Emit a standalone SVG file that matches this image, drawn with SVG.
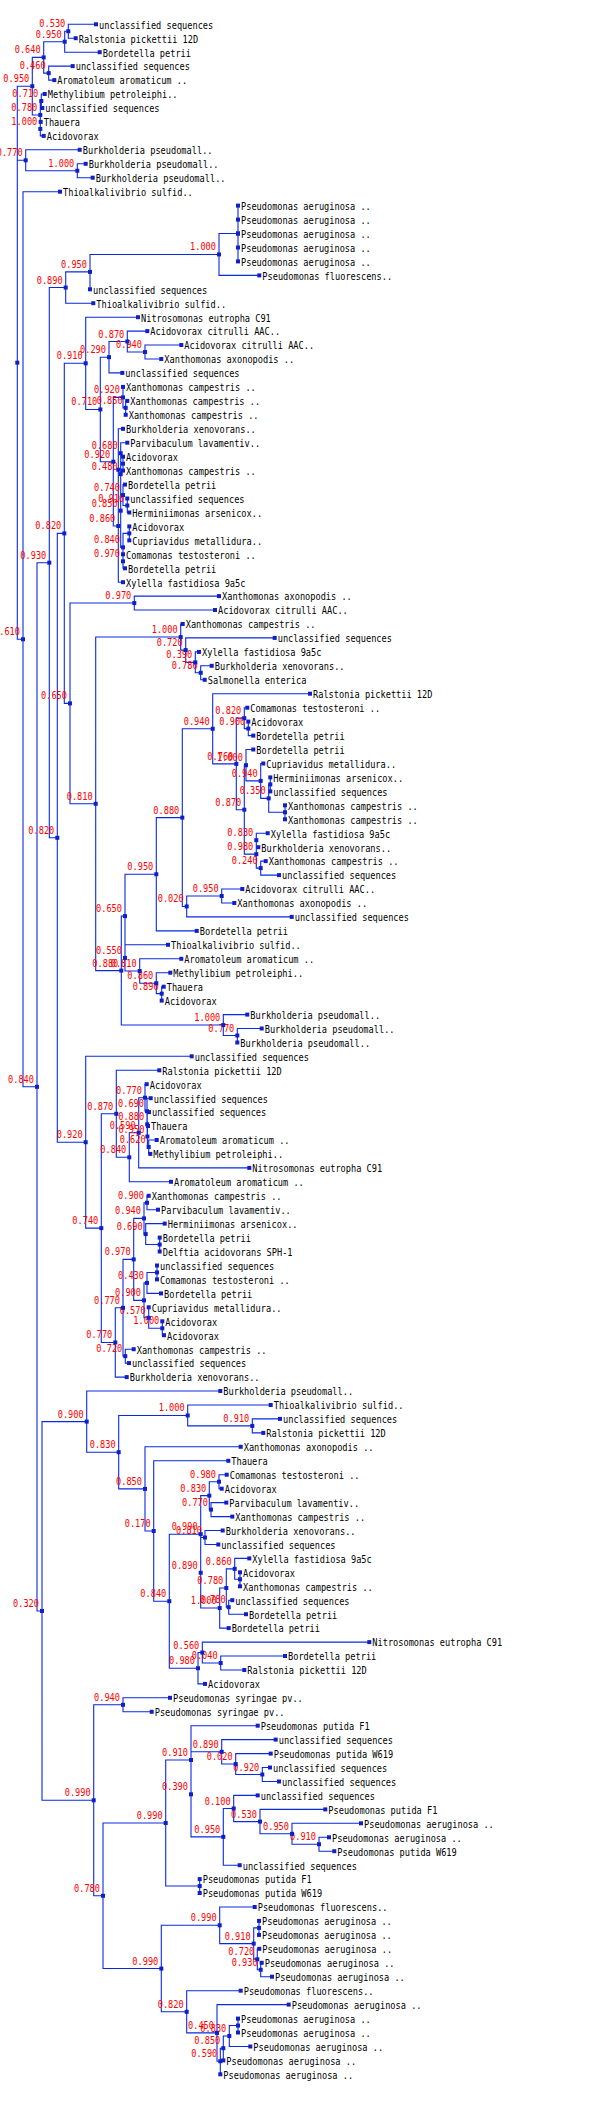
<svg xmlns="http://www.w3.org/2000/svg" xmlns:xlink="http://www.w3.org/1999/xlink" width="600" height="2112" viewBox="0 0 600 2112">
<style>
text{font-family:"DejaVu Sans Mono","Liberation Mono",monospace;font-size:10px;fill:#000}
text.b{fill:#f00;text-anchor:end}
#conn path{fill:none;stroke:#0a2ae0;stroke-width:1.1}
</style>
<defs><rect id="s" x="-2" y="-2" width="4" height="4" fill="#1020c8"/></defs>
<rect width="600" height="2112" fill="#fff"/>
<g id="conn">
<path d="M96 24.3H68.3V38.2H75.7M68.3 31.25H64.7V52.2H99.7M72.7 66.1H48.7V80.1H54.3M64.7 41.7H43.7V73.1H48.7M44.7 94H41.3V108H42.3M40.7 121.9H40.3V135.9H43.7M41.3 101H40.3V128.9M43.7 57.4H32.3V114.95H40.3M85.7 163.8H77.3V177.7H92.7M79.7 149.8H25.7V170.75H77.3M32.3 86.2H17.3V639.25H23M17.3 160.3H25.7M60 191.7H23V1086.8H37"/>
<path d="M238 205.6V261.4M238 233.5H219V275.4H259.3M219 254.45H90V289.3M90 271.9H65.7V303.2H93.3M181.3 345H145V359H161.3M147.3 331.1H127.3V352H145M127.3 341.5H109V372.9H122.3M127.3 400.9H125.7V414.8M123 386.9V407.85H125.7M123 456.7V470.6M127.3 442.7H120.7V463.65H123M127.3 498.5V512.5H129.3M125 484.6H123V505.5H127.3M120.7 453.2V495.05H123M129.3 526.4V540.4M123 554.3V568.3H125M129.3 533.4H123V561.3M120.7 474.1V547.35H123M123 428.8H118.3V510.7H120.7M118.3 469.75V582.2H123M123 397.4H113.3V526H118.3M109 357.2H100.3V461.7H113.3M138 317.2H85.7V409.45H100.3"/>
<path d="M219 596.1H134.3V610H215M211.7 665.8H200.7V679.8H204.7M199 651.9H195.3V672.8H200.7M274.7 637.9H185.7V662.35H195.3M182.7 624H180.7V650.1H185.7M248.3 721.6V735.6H253.3M247.3 707.7H244.3V728.6H248.3M270.3 777.4V791.4M285 805.3V819.3M270.3 784.4H268.7V812.3H285M263.3 763.5H260.7V798.35H268.7M253.3 749.5H246V780.9H260.7M267.7 833.2H256.3V847.2H258.3M265.7 861.1H260.7V875.1H279M256.3 840.2V868.1H260.7M246 765.2H244.3V854.15H256.3M244.3 718.15H236.3V809.7H244.3M310 693.7H212.7V763.9H236.3M242.3 889H221.7V903H234.3M221.7 896H186.7V916.9H291.7M212.7 728.8H182.3V906.45H186.7M182.3 817.6H156.3V930.9H196.7M163.7 986.7H161.7V1000.6M170.3 972.7H156.3V993.65H161.7M181.3 958.8H139.7V983.2H156.3M168 944.8H125V971H139.7M156.3 874.25H125V957.9M261.7 1028.5H237.3V1042.5M247.3 1014.6H223.3V1035.5H237.3M125 916.1H121.3V1025.05H223.3M180.7 637.05H95.7V970.6H121.3M134.3 603.05H70V803.8H95.7M85.7 363.3H64.3V703.4H70"/>
<path d="M156.7 1140H148.7V1153.9H150.3M148 1126H147.4V1146.95H148.7M149 1112.1H147.2V1136.5H147.4M150.7 1098.2H147V1124.3H147.2M146.7 1084.2H145V1111.25H147M145 1097.7H138.7V1167.9H249.3M138.7 1132.8H129.3V1181.8H171M159.3 1070.3H116.3V1157.3H129.3M148.7 1195.8H147V1209.7H158M159.7 1237.6V1251.5M164.7 1223.6H145.7V1244.55H159.7M147 1202.75H144V1234.1H145.7M157 1265.5V1279.4M157 1272.45H147V1293.4H161M162.3 1321.3V1335.2H164M148.7 1307.3V1328.25H162.3M147 1282.9H144V1317.8H148.7M144 1218.4H133.7V1300.35H144M133.7 1349.2H125.3V1363.1H129M133.7 1259.4H123V1356.15H125.3M123 1307.8H115.3V1377.1H126.7M116.3 1113.8H101.3V1342.45H115.3M191.7 1056.3H85.7V1228.1H101.3M64.3 533.4H57.3V1142.2H85.7M65.7 287.55H49.3V837.8H57.3"/>
<path d="M280 1418.9H252.3V1432.9H263.3M270.7 1405H187.7V1425.9H252.3M226.7 1474.7H219V1488.7H221.7M226.3 1502.6H211V1516.6H232.3M219 1481.7H209.3V1509.6H211M222.7 1530.5H205V1544.5H218.3M240 1572.3V1586.3M249.3 1558.4H234.7V1579.3H240M232.3 1600.2H228.7V1614.2H246M234.7 1568.85H226.3V1607.2H228.7M226.3 1588H219.7V1628.1H228.7M205 1537.5H200.7V1608.05H219.7M209.3 1495.65H200.7V1572.8M285 1656H220.7V1670H244.3M369.3 1642.1H202.3V1663H220.7M202.3 1652.55H198V1683.9H205M200.7 1534.2H169.3V1668.2H198M228.3 1460.8H153.7V1601.2H169.3M240.7 1446.8H145V1531H153.7M187.7 1415.45H118.7V1488.9H145M220.3 1391H86.7V1452.2H118.7"/>
<path d="M170 1697.8H123V1711.8H151.7M270 1767.5H262.3V1781.5H279M270.7 1753.6H235.7V1774.5H262.3M275.7 1739.6H221.7V1764.05H235.7M329 1837.3H319V1851.2H334.3M361 1823.3H292V1844.25H319M325.3 1809.4H260V1833.8H292M257.7 1795.4H233.7V1821.6H260M233.7 1808.5H223.3V1865.2H239.7M221.7 1751.8H191V1836.85H223.3M257.7 1725.7H191V1794.3M199.7 1879.1V1893M191 1760H165.7V1886.05H199.7M259 1920.9V1934.9M261.7 1962.8H260.7V1976.7H272M259.3 1948.8H257.3V1969.75H260.7M259 1927.9H253.7V1959.3H257.3M254.7 1907H219.7V1943.6H253.7M238 2018.6V2032.5M238 2025.55H229.3V2046.5H250.3M229.3 2036H223.3V2060.4M223.3 2048.2H220.3V2074.3M288.7 2004.6H217V2061.25H220.3M240.7 1990.7H186.7V2032.9H217M219.7 1925.3H161.3V2011.8H186.7M165.7 1823H103V1968.55H161.3M123 1704.8H93.7V1895.8H103M86.7 1421.6H42V1800.3H93.7M49.3 562.7H37V1610.95H42"/>
</g>
<g id="inner">
<g id="n530a"><use href="#s" x="68.3" y="31.25"/><text class="b" transform="translate(65.3 27.25)scale(.864 1)">0.530</text></g>
<g id="n950a"><use href="#s" x="64.7" y="41.7"/><text class="b" transform="translate(61.7 37.7)scale(.864 1)">0.950</text></g>
<g id="n460"><use href="#s" x="48.7" y="73.1"/><text class="b" transform="translate(45.7 69.1)scale(.864 1)">0.460</text></g>
<g id="n640"><use href="#s" x="43.7" y="57.4"/><text class="b" transform="translate(40.7 53.4)scale(.864 1)">0.640</text></g>
<g id="n710a"><use href="#s" x="41.3" y="101"/><text class="b" transform="translate(38.3 97)scale(.864 1)">0.710</text></g>
<g id="n1000a"><use href="#s" x="40.3" y="128.9"/><text class="b" transform="translate(37.3 124.9)scale(.864 1)">1.000</text></g>
<g id="n780a"><use href="#s" x="40.3" y="114.95"/><text class="b" transform="translate(37.3 110.95)scale(.864 1)">0.780</text></g>
<g id="n950b"><use href="#s" x="32.3" y="86.2"/><text class="b" transform="translate(29.3 82.2)scale(.864 1)">0.950</text></g>
<g id="n1000b"><use href="#s" x="77.3" y="170.75"/><text class="b" transform="translate(74.3 166.75)scale(.864 1)">1.000</text></g>
<g id="n770a"><use href="#s" x="25.7" y="160.3"/><text class="b" transform="translate(22.7 156.3)scale(.864 1)">0.770</text></g>
<g id="root"><use href="#s" x="17.3" y="362.7"/></g>
<g id="n610"><use href="#s" x="23" y="639.25"/><text class="b" transform="translate(20 635.25)scale(.864 1)">0.610</text></g>
<g id="npa"><use href="#s" x="238" y="233.5"/></g>
<g id="n1000c"><use href="#s" x="219" y="254.45"/><text class="b" transform="translate(216 250.45)scale(.864 1)">1.000</text></g>
<g id="n950c"><use href="#s" x="90" y="271.9"/><text class="b" transform="translate(87 267.9)scale(.864 1)">0.950</text></g>
<g id="n890a"><use href="#s" x="65.7" y="287.55"/><text class="b" transform="translate(62.7 283.55)scale(.864 1)">0.890</text></g>
<g id="n940a"><use href="#s" x="145" y="352"/><text class="b" transform="translate(142 348)scale(.864 1)">0.940</text></g>
<g id="n870a"><use href="#s" x="127.3" y="341.5"/><text class="b" transform="translate(124.3 337.5)scale(.864 1)">0.870</text></g>
<g id="n290"><use href="#s" x="109" y="357.2"/><text class="b" transform="translate(106 353.2)scale(.864 1)">0.290</text></g>
<g id="n850a"><use href="#s" x="125.7" y="407.85"/><text class="b" transform="translate(122.7 403.85)scale(.864 1)">0.850</text></g>
<g id="n920a"><use href="#s" x="123" y="397.4"/><text class="b" transform="translate(120 393.4)scale(.864 1)">0.920</text></g>
<g id="n33"><use href="#s" x="123" y="463.65"/></g>
<g id="n680"><use href="#s" x="120.7" y="453.2"/><text class="b" transform="translate(117.7 449.2)scale(.864 1)">0.680</text></g>
<g id="n910a"><use href="#s" x="127.3" y="505.5"/><text class="b" transform="translate(124.3 501.5)scale(.864 1)">0.910</text></g>
<g id="n740a"><use href="#s" x="123" y="495.05"/><text class="b" transform="translate(120 491.05)scale(.864 1)">0.740</text></g>
<g id="n480"><use href="#s" x="120.7" y="474.1"/><text class="b" transform="translate(117.7 470.1)scale(.864 1)">0.480</text></g>
<g id="n37"><use href="#s" x="129.3" y="533.4"/></g>
<g id="n970a"><use href="#s" x="123" y="561.3"/><text class="b" transform="translate(120 557.3)scale(.864 1)">0.970</text></g>
<g id="n840b"><use href="#s" x="123" y="547.35"/><text class="b" transform="translate(120 543.35)scale(.864 1)">0.840</text></g>
<g id="n850b"><use href="#s" x="120.7" y="510.7"/><text class="b" transform="translate(117.7 506.7)scale(.864 1)">0.850</text></g>
<g id="nW"><use href="#s" x="118.3" y="469.75"/></g>
<g id="n860a"><use href="#s" x="118.3" y="526"/><text class="b" transform="translate(115.3 522)scale(.864 1)">0.860</text></g>
<g id="n920b"><use href="#s" x="113.3" y="461.7"/><text class="b" transform="translate(110.3 457.7)scale(.864 1)">0.920</text></g>
<g id="n710b"><use href="#s" x="100.3" y="409.45"/><text class="b" transform="translate(97.3 405.45)scale(.864 1)">0.710</text></g>
<g id="n910b"><use href="#s" x="85.7" y="363.3"/><text class="b" transform="translate(82.7 359.3)scale(.864 1)">0.910</text></g>
<g id="n970b"><use href="#s" x="134.3" y="603.05"/><text class="b" transform="translate(131.3 599.05)scale(.864 1)">0.970</text></g>
<g id="n780b"><use href="#s" x="200.7" y="672.8"/><text class="b" transform="translate(197.7 668.8)scale(.864 1)">0.780</text></g>
<g id="n390a"><use href="#s" x="195.3" y="662.35"/><text class="b" transform="translate(192.3 658.35)scale(.864 1)">0.390</text></g>
<g id="n720a"><use href="#s" x="185.7" y="650.1"/><text class="b" transform="translate(182.7 646.1)scale(.864 1)">0.720</text></g>
<g id="n1000d"><use href="#s" x="180.7" y="637.05"/><text class="b" transform="translate(177.7 633.05)scale(.864 1)">1.000</text></g>
<g id="n900a"><use href="#s" x="248.3" y="728.6"/><text class="b" transform="translate(245.3 724.6)scale(.864 1)">0.900</text></g>
<g id="n820a"><use href="#s" x="244.3" y="718.15"/><text class="b" transform="translate(241.3 714.15)scale(.864 1)">0.820</text></g>
<g id="n5556"><use href="#s" x="270.3" y="784.4"/></g>
<g id="n5758"><use href="#s" x="285" y="812.3"/></g>
<g id="n350"><use href="#s" x="268.7" y="798.35"/><text class="b" transform="translate(265.7 794.35)scale(.864 1)">0.350</text></g>
<g id="n940b"><use href="#s" x="260.7" y="780.9"/><text class="b" transform="translate(257.7 776.9)scale(.864 1)">0.940</text></g>
<g id="n1000e"><use href="#s" x="246" y="765.2"/><text class="b" transform="translate(243 761.2)scale(.864 1)">1.000</text></g>
<g id="n830a"><use href="#s" x="256.3" y="840.2"/><text class="b" transform="translate(253.3 836.2)scale(.864 1)">0.830</text></g>
<g id="n240"><use href="#s" x="260.7" y="868.1"/><text class="b" transform="translate(257.7 864.1)scale(.864 1)">0.240</text></g>
<g id="n980a"><use href="#s" x="256.3" y="854.15"/><text class="b" transform="translate(253.3 850.15)scale(.864 1)">0.980</text></g>
<g id="n870b"><use href="#s" x="244.3" y="809.7"/><text class="b" transform="translate(241.3 805.7)scale(.864 1)">0.870</text></g>
<g id="n760"><use href="#s" x="236.3" y="763.9"/><text class="b" transform="translate(233.3 759.9)scale(.864 1)">0.760</text></g>
<g id="n940c"><use href="#s" x="212.7" y="728.8"/><text class="b" transform="translate(209.7 724.8)scale(.864 1)">0.940</text></g>
<g id="n950d"><use href="#s" x="221.7" y="896"/><text class="b" transform="translate(218.7 892)scale(.864 1)">0.950</text></g>
<g id="n020a"><use href="#s" x="186.7" y="906.45"/><text class="b" transform="translate(183.7 902.45)scale(.864 1)">0.020</text></g>
<g id="n880a"><use href="#s" x="182.3" y="817.6"/><text class="b" transform="translate(179.3 813.6)scale(.864 1)">0.880</text></g>
<g id="n950e"><use href="#s" x="156.3" y="874.25"/><text class="b" transform="translate(153.3 870.25)scale(.864 1)">0.950</text></g>
<g id="n890b"><use href="#s" x="161.7" y="993.65"/><text class="b" transform="translate(158.7 989.65)scale(.864 1)">0.890</text></g>
<g id="n860b"><use href="#s" x="156.3" y="983.2"/><text class="b" transform="translate(153.3 979.2)scale(.864 1)">0.860</text></g>
<g id="n810a"><use href="#s" x="139.7" y="971"/><text class="b" transform="translate(136.7 967)scale(.864 1)">0.810</text></g>
<g id="n550"><use href="#s" x="125" y="957.9"/><text class="b" transform="translate(122 953.9)scale(.864 1)">0.550</text></g>
<g id="n650a"><use href="#s" x="125" y="916.1"/><text class="b" transform="translate(122 912.1)scale(.864 1)">0.650</text></g>
<g id="n770b"><use href="#s" x="237.3" y="1035.5"/><text class="b" transform="translate(234.3 1031.5)scale(.864 1)">0.770</text></g>
<g id="n1000f"><use href="#s" x="223.3" y="1025.05"/><text class="b" transform="translate(220.3 1021.05)scale(.864 1)">1.000</text></g>
<g id="n880b"><use href="#s" x="121.3" y="970.6"/><text class="b" transform="translate(118.3 966.6)scale(.864 1)">0.880</text></g>
<g id="n810b"><use href="#s" x="95.7" y="803.8"/><text class="b" transform="translate(92.7 799.8)scale(.864 1)">0.810</text></g>
<g id="n650b"><use href="#s" x="70" y="703.4"/><text class="b" transform="translate(67 699.4)scale(.864 1)">0.650</text></g>
<g id="n820b"><use href="#s" x="64.3" y="533.4"/><text class="b" transform="translate(61.3 529.4)scale(.864 1)">0.820</text></g>
<g id="n620"><use href="#s" x="148.7" y="1146.95"/><text class="b" transform="translate(145.7 1142.95)scale(.864 1)">0.620</text></g>
<g id="n950f"><use href="#s" x="147.4" y="1136.5"/><text class="b" transform="translate(144.4 1132.5)scale(.864 1)">0.950</text></g>
<g id="n880c"><use href="#s" x="147.2" y="1124.3"/><text class="b" transform="translate(144.2 1120.3)scale(.864 1)">0.880</text></g>
<g id="n690a"><use href="#s" x="147" y="1111.25"/><text class="b" transform="translate(144 1107.25)scale(.864 1)">0.690</text></g>
<g id="n770c"><use href="#s" x="145" y="1097.7"/><text class="b" transform="translate(142 1093.7)scale(.864 1)">0.770</text></g>
<g id="n590a"><use href="#s" x="138.7" y="1132.8"/><text class="b" transform="translate(135.7 1128.8)scale(.864 1)">0.590</text></g>
<g id="n840c"><use href="#s" x="129.3" y="1157.3"/><text class="b" transform="translate(126.3 1153.3)scale(.864 1)">0.840</text></g>
<g id="n870c"><use href="#s" x="116.3" y="1113.8"/><text class="b" transform="translate(113.3 1109.8)scale(.864 1)">0.870</text></g>
<g id="n900b"><use href="#s" x="147" y="1202.75"/><text class="b" transform="translate(144 1198.75)scale(.864 1)">0.900</text></g>
<g id="n8889"><use href="#s" x="159.7" y="1244.55"/></g>
<g id="n690b"><use href="#s" x="145.7" y="1234.1"/><text class="b" transform="translate(142.7 1230.1)scale(.864 1)">0.690</text></g>
<g id="n940d"><use href="#s" x="144" y="1218.4"/><text class="b" transform="translate(141 1214.4)scale(.864 1)">0.940</text></g>
<g id="n9091"><use href="#s" x="157" y="1272.45"/></g>
<g id="n430"><use href="#s" x="147" y="1282.9"/><text class="b" transform="translate(144 1278.9)scale(.864 1)">0.430</text></g>
<g id="n1000g"><use href="#s" x="162.3" y="1328.25"/><text class="b" transform="translate(159.3 1324.25)scale(.864 1)">1.000</text></g>
<g id="n570"><use href="#s" x="148.7" y="1317.8"/><text class="b" transform="translate(145.7 1313.8)scale(.864 1)">0.570</text></g>
<g id="n900c"><use href="#s" x="144" y="1300.35"/><text class="b" transform="translate(141 1296.35)scale(.864 1)">0.900</text></g>
<g id="n970c"><use href="#s" x="133.7" y="1259.4"/><text class="b" transform="translate(130.7 1255.4)scale(.864 1)">0.970</text></g>
<g id="n720b"><use href="#s" x="125.3" y="1356.15"/><text class="b" transform="translate(122.3 1352.15)scale(.864 1)">0.720</text></g>
<g id="n770d"><use href="#s" x="123" y="1307.8"/><text class="b" transform="translate(120 1303.8)scale(.864 1)">0.770</text></g>
<g id="n770e"><use href="#s" x="115.3" y="1342.45"/><text class="b" transform="translate(112.3 1338.45)scale(.864 1)">0.770</text></g>
<g id="n740b"><use href="#s" x="101.3" y="1228.1"/><text class="b" transform="translate(98.3 1224.1)scale(.864 1)">0.740</text></g>
<g id="n920c"><use href="#s" x="85.7" y="1142.2"/><text class="b" transform="translate(82.7 1138.2)scale(.864 1)">0.920</text></g>
<g id="n820c"><use href="#s" x="57.3" y="837.8"/><text class="b" transform="translate(54.3 833.8)scale(.864 1)">0.820</text></g>
<g id="n930a"><use href="#s" x="49.3" y="562.7"/><text class="b" transform="translate(46.3 558.7)scale(.864 1)">0.930</text></g>
<g id="n910c"><use href="#s" x="252.3" y="1425.9"/><text class="b" transform="translate(249.3 1421.9)scale(.864 1)">0.910</text></g>
<g id="n1000h"><use href="#s" x="187.7" y="1415.45"/><text class="b" transform="translate(184.7 1411.45)scale(.864 1)">1.000</text></g>
<g id="n980b"><use href="#s" x="219" y="1481.7"/><text class="b" transform="translate(216 1477.7)scale(.864 1)">0.980</text></g>
<g id="n770f"><use href="#s" x="211" y="1509.6"/><text class="b" transform="translate(208 1505.6)scale(.864 1)">0.770</text></g>
<g id="n830b"><use href="#s" x="209.3" y="1495.65"/><text class="b" transform="translate(206.3 1491.65)scale(.864 1)">0.830</text></g>
<g id="n810c"><use href="#s" x="205" y="1537.5"/><text class="b" transform="translate(202 1533.5)scale(.864 1)">0.810</text></g>
<g id="ng"><use href="#s" x="240" y="1579.3"/></g>
<g id="n860c"><use href="#s" x="234.7" y="1568.85"/><text class="b" transform="translate(231.7 1564.85)scale(.864 1)">0.860</text></g>
<g id="n780c"><use href="#s" x="228.7" y="1607.2"/><text class="b" transform="translate(225.7 1603.2)scale(.864 1)">0.780</text></g>
<g id="n780d"><use href="#s" x="226.3" y="1588"/><text class="b" transform="translate(223.3 1584)scale(.864 1)">0.780</text></g>
<g id="n1000i"><use href="#s" x="219.7" y="1608.05"/><text class="b" transform="translate(216.7 1604.05)scale(.864 1)">1.000</text></g>
<g id="n890c"><use href="#s" x="200.7" y="1572.8"/><text class="b" transform="translate(197.7 1568.8)scale(.864 1)">0.890</text></g>
<g id="n990a"><use href="#s" x="200.7" y="1534.2"/><text class="b" transform="translate(197.7 1530.2)scale(.864 1)">0.990</text></g>
<g id="n040"><use href="#s" x="220.7" y="1663"/><text class="b" transform="translate(217.7 1659)scale(.864 1)">0.040</text></g>
<g id="n560"><use href="#s" x="202.3" y="1652.55"/><text class="b" transform="translate(199.3 1648.55)scale(.864 1)">0.560</text></g>
<g id="n980c"><use href="#s" x="198" y="1668.2"/><text class="b" transform="translate(195 1664.2)scale(.864 1)">0.980</text></g>
<g id="n840d"><use href="#s" x="169.3" y="1601.2"/><text class="b" transform="translate(166.3 1597.2)scale(.864 1)">0.840</text></g>
<g id="n170"><use href="#s" x="153.7" y="1531"/><text class="b" transform="translate(150.7 1527)scale(.864 1)">0.170</text></g>
<g id="n850c"><use href="#s" x="145" y="1488.9"/><text class="b" transform="translate(142 1484.9)scale(.864 1)">0.850</text></g>
<g id="n830c"><use href="#s" x="118.7" y="1452.2"/><text class="b" transform="translate(115.7 1448.2)scale(.864 1)">0.830</text></g>
<g id="n900d"><use href="#s" x="86.7" y="1421.6"/><text class="b" transform="translate(83.7 1417.6)scale(.864 1)">0.900</text></g>
<g id="n940e"><use href="#s" x="123" y="1704.8"/><text class="b" transform="translate(120 1700.8)scale(.864 1)">0.940</text></g>
<g id="n920d"><use href="#s" x="262.3" y="1774.5"/><text class="b" transform="translate(259.3 1770.5)scale(.864 1)">0.920</text></g>
<g id="n020b"><use href="#s" x="235.7" y="1764.05"/><text class="b" transform="translate(232.7 1760.05)scale(.864 1)">0.020</text></g>
<g id="n890d"><use href="#s" x="221.7" y="1751.8"/><text class="b" transform="translate(218.7 1747.8)scale(.864 1)">0.890</text></g>
<g id="n910d"><use href="#s" x="319" y="1844.25"/><text class="b" transform="translate(316 1840.25)scale(.864 1)">0.910</text></g>
<g id="n950g"><use href="#s" x="292" y="1833.8"/><text class="b" transform="translate(289 1829.8)scale(.864 1)">0.950</text></g>
<g id="n530b"><use href="#s" x="260" y="1821.6"/><text class="b" transform="translate(257 1817.6)scale(.864 1)">0.530</text></g>
<g id="n100"><use href="#s" x="233.7" y="1808.5"/><text class="b" transform="translate(230.7 1804.5)scale(.864 1)">0.100</text></g>
<g id="n950h"><use href="#s" x="223.3" y="1836.85"/><text class="b" transform="translate(220.3 1832.85)scale(.864 1)">0.950</text></g>
<g id="n390b"><use href="#s" x="191" y="1794.3"/><text class="b" transform="translate(188 1790.3)scale(.864 1)">0.390</text></g>
<g id="n910e"><use href="#s" x="191" y="1760"/><text class="b" transform="translate(188 1756)scale(.864 1)">0.910</text></g>
<g id="npp"><use href="#s" x="199.7" y="1886.05"/></g>
<g id="n990b"><use href="#s" x="165.7" y="1823"/><text class="b" transform="translate(162.7 1819)scale(.864 1)">0.990</text></g>
<g id="n137"><use href="#s" x="259" y="1927.9"/></g>
<g id="n930b"><use href="#s" x="260.7" y="1969.75"/><text class="b" transform="translate(257.7 1965.75)scale(.864 1)">0.930</text></g>
<g id="n720c"><use href="#s" x="257.3" y="1959.3"/><text class="b" transform="translate(254.3 1955.3)scale(.864 1)">0.720</text></g>
<g id="n910f"><use href="#s" x="253.7" y="1943.6"/><text class="b" transform="translate(250.7 1939.6)scale(.864 1)">0.910</text></g>
<g id="n990d"><use href="#s" x="219.7" y="1925.3"/><text class="b" transform="translate(216.7 1921.3)scale(.864 1)">0.990</text></g>
<g id="n144"><use href="#s" x="238" y="2025.55"/></g>
<g id="n830d"><use href="#s" x="229.3" y="2036"/><text class="b" transform="translate(226.3 2032)scale(.864 1)">0.830</text></g>
<g id="n850d"><use href="#s" x="223.3" y="2048.2"/><text class="b" transform="translate(220.3 2044.2)scale(.864 1)">0.850</text></g>
<g id="n590b"><use href="#s" x="220.3" y="2061.25"/><text class="b" transform="translate(217.3 2057.25)scale(.864 1)">0.590</text></g>
<g id="n450"><use href="#s" x="217" y="2032.9"/><text class="b" transform="translate(214 2028.9)scale(.864 1)">0.450</text></g>
<g id="n820d"><use href="#s" x="186.7" y="2011.8"/><text class="b" transform="translate(183.7 2007.8)scale(.864 1)">0.820</text></g>
<g id="n990c"><use href="#s" x="161.3" y="1968.55"/><text class="b" transform="translate(158.3 1964.55)scale(.864 1)">0.990</text></g>
<g id="n780e"><use href="#s" x="103" y="1895.8"/><text class="b" transform="translate(100 1891.8)scale(.864 1)">0.780</text></g>
<g id="n990e"><use href="#s" x="93.7" y="1800.3"/><text class="b" transform="translate(90.7 1796.3)scale(.864 1)">0.990</text></g>
<g id="n320"><use href="#s" x="42" y="1610.95"/><text class="b" transform="translate(39 1606.95)scale(.864 1)">0.320</text></g>
<g id="n840a"><use href="#s" x="37" y="1086.8"/><text class="b" transform="translate(34 1082.8)scale(.864 1)">0.840</text></g>
</g>
<g id="leaves">
<g id="L1"><use href="#s" x="96" y="24.3"/><text transform="translate(99 28.6)scale(.864 1)">unclassified sequences</text></g>
<g id="L2"><use href="#s" x="75.7" y="38.2"/><text transform="translate(78.7 42.5)scale(.864 1)">Ralstonia pickettii 12D</text></g>
<g id="L3"><use href="#s" x="99.7" y="52.2"/><text transform="translate(102.7 56.5)scale(.864 1)">Bordetella petrii</text></g>
<g id="L4"><use href="#s" x="72.7" y="66.1"/><text transform="translate(75.7 70.4)scale(.864 1)">unclassified sequences</text></g>
<g id="L5"><use href="#s" x="54.3" y="80.1"/><text transform="translate(57.3 84.4)scale(.864 1)">Aromatoleum aromaticum ..</text></g>
<g id="L6"><use href="#s" x="44.7" y="94"/><text transform="translate(47.7 98.3)scale(.864 1)">Methylibium petroleiphi..</text></g>
<g id="L7"><use href="#s" x="42.3" y="108"/><text transform="translate(45.3 112.3)scale(.864 1)">unclassified sequences</text></g>
<g id="L8"><use href="#s" x="40.7" y="121.9"/><text transform="translate(43.7 126.2)scale(.864 1)">Thauera</text></g>
<g id="L9"><use href="#s" x="43.7" y="135.9"/><text transform="translate(46.7 140.2)scale(.864 1)">Acidovorax</text></g>
<g id="L10"><use href="#s" x="79.7" y="149.8"/><text transform="translate(82.7 154.1)scale(.864 1)">Burkholderia pseudomall..</text></g>
<g id="L11"><use href="#s" x="85.7" y="163.8"/><text transform="translate(88.7 168.1)scale(.864 1)">Burkholderia pseudomall..</text></g>
<g id="L12"><use href="#s" x="92.7" y="177.7"/><text transform="translate(95.7 182)scale(.864 1)">Burkholderia pseudomall..</text></g>
<g id="L13"><use href="#s" x="60" y="191.7"/><text transform="translate(63 196)scale(.864 1)">Thioalkalivibrio sulfid..</text></g>
<g id="L14"><use href="#s" x="238" y="205.6"/><text transform="translate(241 209.9)scale(.864 1)">Pseudomonas aeruginosa ..</text></g>
<g id="L15"><use href="#s" x="238" y="219.6"/><text transform="translate(241 223.9)scale(.864 1)">Pseudomonas aeruginosa ..</text></g>
<g id="L16"><use href="#s" x="238" y="233.5"/><text transform="translate(241 237.8)scale(.864 1)">Pseudomonas aeruginosa ..</text></g>
<g id="L17"><use href="#s" x="238" y="247.5"/><text transform="translate(241 251.8)scale(.864 1)">Pseudomonas aeruginosa ..</text></g>
<g id="L18"><use href="#s" x="238" y="261.4"/><text transform="translate(241 265.7)scale(.864 1)">Pseudomonas aeruginosa ..</text></g>
<g id="L19"><use href="#s" x="259.3" y="275.4"/><text transform="translate(262.3 279.7)scale(.864 1)">Pseudomonas fluorescens..</text></g>
<g id="L20"><use href="#s" x="90" y="289.3"/><text transform="translate(93 293.6)scale(.864 1)">unclassified sequences</text></g>
<g id="L21"><use href="#s" x="93.3" y="303.2"/><text transform="translate(96.3 307.5)scale(.864 1)">Thioalkalivibrio sulfid..</text></g>
<g id="L22"><use href="#s" x="138" y="317.2"/><text transform="translate(141 321.5)scale(.864 1)">Nitrosomonas eutropha C91</text></g>
<g id="L23"><use href="#s" x="147.3" y="331.1"/><text transform="translate(150.3 335.4)scale(.864 1)">Acidovorax citrulli AAC..</text></g>
<g id="L24"><use href="#s" x="181.3" y="345"/><text transform="translate(184.3 349.3)scale(.864 1)">Acidovorax citrulli AAC..</text></g>
<g id="L25"><use href="#s" x="161.3" y="359"/><text transform="translate(164.3 363.3)scale(.864 1)">Xanthomonas axonopodis ..</text></g>
<g id="L26"><use href="#s" x="122.3" y="372.9"/><text transform="translate(125.3 377.2)scale(.864 1)">unclassified sequences</text></g>
<g id="L27"><use href="#s" x="123" y="386.9"/><text transform="translate(126 391.2)scale(.864 1)">Xanthomonas campestris ..</text></g>
<g id="L28"><use href="#s" x="127.3" y="400.9"/><text transform="translate(130.3 405.2)scale(.864 1)">Xanthomonas campestris ..</text></g>
<g id="L29"><use href="#s" x="125.7" y="414.8"/><text transform="translate(128.7 419.1)scale(.864 1)">Xanthomonas campestris ..</text></g>
<g id="L30"><use href="#s" x="123" y="428.8"/><text transform="translate(126 433.1)scale(.864 1)">Burkholderia xenovorans..</text></g>
<g id="L31"><use href="#s" x="127.3" y="442.7"/><text transform="translate(130.3 447)scale(.864 1)">Parvibaculum lavamentiv..</text></g>
<g id="L32"><use href="#s" x="123" y="456.7"/><text transform="translate(126 461)scale(.864 1)">Acidovorax</text></g>
<g id="L33"><use href="#s" x="123" y="470.6"/><text transform="translate(126 474.9)scale(.864 1)">Xanthomonas campestris ..</text></g>
<g id="L34"><use href="#s" x="125" y="484.6"/><text transform="translate(128 488.9)scale(.864 1)">Bordetella petrii</text></g>
<g id="L35"><use href="#s" x="127.3" y="498.5"/><text transform="translate(130.3 502.8)scale(.864 1)">unclassified sequences</text></g>
<g id="L36"><use href="#s" x="129.3" y="512.5"/><text transform="translate(132.3 516.8)scale(.864 1)">Herminiimonas arsenicox..</text></g>
<g id="L37"><use href="#s" x="129.3" y="526.4"/><text transform="translate(132.3 530.7)scale(.864 1)">Acidovorax</text></g>
<g id="L38"><use href="#s" x="129.3" y="540.4"/><text transform="translate(132.3 544.7)scale(.864 1)">Cupriavidus metallidura..</text></g>
<g id="L39"><use href="#s" x="123" y="554.3"/><text transform="translate(126 558.6)scale(.864 1)">Comamonas testosteroni ..</text></g>
<g id="L40"><use href="#s" x="125" y="568.3"/><text transform="translate(128 572.6)scale(.864 1)">Bordetella petrii</text></g>
<g id="L41"><use href="#s" x="123" y="582.2"/><text transform="translate(126 586.5)scale(.864 1)">Xylella fastidiosa 9a5c</text></g>
<g id="L42"><use href="#s" x="219" y="596.1"/><text transform="translate(222 600.4)scale(.864 1)">Xanthomonas axonopodis ..</text></g>
<g id="L43"><use href="#s" x="215" y="610"/><text transform="translate(218 614.3)scale(.864 1)">Acidovorax citrulli AAC..</text></g>
<g id="L44"><use href="#s" x="182.7" y="624"/><text transform="translate(185.7 628.3)scale(.864 1)">Xanthomonas campestris ..</text></g>
<g id="L45"><use href="#s" x="274.7" y="637.9"/><text transform="translate(277.7 642.2)scale(.864 1)">unclassified sequences</text></g>
<g id="L46"><use href="#s" x="199" y="651.9"/><text transform="translate(202 656.2)scale(.864 1)">Xylella fastidiosa 9a5c</text></g>
<g id="L47"><use href="#s" x="211.7" y="665.8"/><text transform="translate(214.7 670.1)scale(.864 1)">Burkholderia xenovorans..</text></g>
<g id="L48"><use href="#s" x="204.7" y="679.8"/><text transform="translate(207.7 684.1)scale(.864 1)">Salmonella enterica</text></g>
<g id="L49"><use href="#s" x="310" y="693.7"/><text transform="translate(313 698)scale(.864 1)">Ralstonia pickettii 12D</text></g>
<g id="L50"><use href="#s" x="247.3" y="707.7"/><text transform="translate(250.3 712)scale(.864 1)">Comamonas testosteroni ..</text></g>
<g id="L51"><use href="#s" x="248.3" y="721.6"/><text transform="translate(251.3 725.9)scale(.864 1)">Acidovorax</text></g>
<g id="L52"><use href="#s" x="253.3" y="735.6"/><text transform="translate(256.3 739.9)scale(.864 1)">Bordetella petrii</text></g>
<g id="L53"><use href="#s" x="253.3" y="749.5"/><text transform="translate(256.3 753.8)scale(.864 1)">Bordetella petrii</text></g>
<g id="L54"><use href="#s" x="263.3" y="763.5"/><text transform="translate(266.3 767.8)scale(.864 1)">Cupriavidus metallidura..</text></g>
<g id="L55"><use href="#s" x="270.3" y="777.4"/><text transform="translate(273.3 781.7)scale(.864 1)">Herminiimonas arsenicox..</text></g>
<g id="L56"><use href="#s" x="270.3" y="791.4"/><text transform="translate(273.3 795.7)scale(.864 1)">unclassified sequences</text></g>
<g id="L57"><use href="#s" x="285" y="805.3"/><text transform="translate(288 809.6)scale(.864 1)">Xanthomonas campestris ..</text></g>
<g id="L58"><use href="#s" x="285" y="819.3"/><text transform="translate(288 823.6)scale(.864 1)">Xanthomonas campestris ..</text></g>
<g id="L59"><use href="#s" x="267.7" y="833.2"/><text transform="translate(270.7 837.5)scale(.864 1)">Xylella fastidiosa 9a5c</text></g>
<g id="L60"><use href="#s" x="258.3" y="847.2"/><text transform="translate(261.3 851.5)scale(.864 1)">Burkholderia xenovorans..</text></g>
<g id="L61"><use href="#s" x="265.7" y="861.1"/><text transform="translate(268.7 865.4)scale(.864 1)">Xanthomonas campestris ..</text></g>
<g id="L62"><use href="#s" x="279" y="875.1"/><text transform="translate(282 879.4)scale(.864 1)">unclassified sequences</text></g>
<g id="L63"><use href="#s" x="242.3" y="889"/><text transform="translate(245.3 893.3)scale(.864 1)">Acidovorax citrulli AAC..</text></g>
<g id="L64"><use href="#s" x="234.3" y="903"/><text transform="translate(237.3 907.3)scale(.864 1)">Xanthomonas axonopodis ..</text></g>
<g id="L65"><use href="#s" x="291.7" y="916.9"/><text transform="translate(294.7 921.2)scale(.864 1)">unclassified sequences</text></g>
<g id="L66"><use href="#s" x="196.7" y="930.9"/><text transform="translate(199.7 935.2)scale(.864 1)">Bordetella petrii</text></g>
<g id="L67"><use href="#s" x="168" y="944.8"/><text transform="translate(171 949.1)scale(.864 1)">Thioalkalivibrio sulfid..</text></g>
<g id="L68"><use href="#s" x="181.3" y="958.8"/><text transform="translate(184.3 963.1)scale(.864 1)">Aromatoleum aromaticum ..</text></g>
<g id="L69"><use href="#s" x="170.3" y="972.7"/><text transform="translate(173.3 977)scale(.864 1)">Methylibium petroleiphi..</text></g>
<g id="L70"><use href="#s" x="163.7" y="986.7"/><text transform="translate(166.7 991)scale(.864 1)">Thauera</text></g>
<g id="L71"><use href="#s" x="161.7" y="1000.6"/><text transform="translate(164.7 1004.9)scale(.864 1)">Acidovorax</text></g>
<g id="L72"><use href="#s" x="247.3" y="1014.6"/><text transform="translate(250.3 1018.9)scale(.864 1)">Burkholderia pseudomall..</text></g>
<g id="L73"><use href="#s" x="261.7" y="1028.5"/><text transform="translate(264.7 1032.8)scale(.864 1)">Burkholderia pseudomall..</text></g>
<g id="L74"><use href="#s" x="237.3" y="1042.5"/><text transform="translate(240.3 1046.8)scale(.864 1)">Burkholderia pseudomall..</text></g>
<g id="L75"><use href="#s" x="191.7" y="1056.3"/><text transform="translate(194.7 1060.6)scale(.864 1)">unclassified sequences</text></g>
<g id="L76"><use href="#s" x="159.3" y="1070.3"/><text transform="translate(162.3 1074.6)scale(.864 1)">Ralstonia pickettii 12D</text></g>
<g id="L77"><use href="#s" x="146.7" y="1084.2"/><text transform="translate(149.7 1088.5)scale(.864 1)">Acidovorax</text></g>
<g id="L78"><use href="#s" x="150.7" y="1098.2"/><text transform="translate(153.7 1102.5)scale(.864 1)">unclassified sequences</text></g>
<g id="L79"><use href="#s" x="149" y="1112.1"/><text transform="translate(152 1116.4)scale(.864 1)">unclassified sequences</text></g>
<g id="L80"><use href="#s" x="148" y="1126"/><text transform="translate(151 1130.3)scale(.864 1)">Thauera</text></g>
<g id="L81"><use href="#s" x="156.7" y="1140"/><text transform="translate(159.7 1144.3)scale(.864 1)">Aromatoleum aromaticum ..</text></g>
<g id="L82"><use href="#s" x="150.3" y="1153.9"/><text transform="translate(153.3 1158.2)scale(.864 1)">Methylibium petroleiphi..</text></g>
<g id="L83"><use href="#s" x="249.3" y="1167.9"/><text transform="translate(252.3 1172.2)scale(.864 1)">Nitrosomonas eutropha C91</text></g>
<g id="L84"><use href="#s" x="171" y="1181.8"/><text transform="translate(174 1186.1)scale(.864 1)">Aromatoleum aromaticum ..</text></g>
<g id="L85"><use href="#s" x="148.7" y="1195.8"/><text transform="translate(151.7 1200.1)scale(.864 1)">Xanthomonas campestris ..</text></g>
<g id="L86"><use href="#s" x="158" y="1209.7"/><text transform="translate(161 1214)scale(.864 1)">Parvibaculum lavamentiv..</text></g>
<g id="L87"><use href="#s" x="164.7" y="1223.6"/><text transform="translate(167.7 1227.9)scale(.864 1)">Herminiimonas arsenicox..</text></g>
<g id="L88"><use href="#s" x="159.7" y="1237.6"/><text transform="translate(162.7 1241.9)scale(.864 1)">Bordetella petrii</text></g>
<g id="L89"><use href="#s" x="159.7" y="1251.5"/><text transform="translate(162.7 1255.8)scale(.864 1)">Delftia acidovorans SPH-1</text></g>
<g id="L90"><use href="#s" x="157" y="1265.5"/><text transform="translate(160 1269.8)scale(.864 1)">unclassified sequences</text></g>
<g id="L91"><use href="#s" x="157" y="1279.4"/><text transform="translate(160 1283.7)scale(.864 1)">Comamonas testosteroni ..</text></g>
<g id="L92"><use href="#s" x="161" y="1293.4"/><text transform="translate(164 1297.7)scale(.864 1)">Bordetella petrii</text></g>
<g id="L93"><use href="#s" x="148.7" y="1307.3"/><text transform="translate(151.7 1311.6)scale(.864 1)">Cupriavidus metallidura..</text></g>
<g id="L94"><use href="#s" x="162.3" y="1321.3"/><text transform="translate(165.3 1325.6)scale(.864 1)">Acidovorax</text></g>
<g id="L95"><use href="#s" x="164" y="1335.2"/><text transform="translate(167 1339.5)scale(.864 1)">Acidovorax</text></g>
<g id="L96"><use href="#s" x="133.7" y="1349.2"/><text transform="translate(136.7 1353.5)scale(.864 1)">Xanthomonas campestris ..</text></g>
<g id="L97"><use href="#s" x="129" y="1363.1"/><text transform="translate(132 1367.4)scale(.864 1)">unclassified sequences</text></g>
<g id="L98"><use href="#s" x="126.7" y="1377.1"/><text transform="translate(129.7 1381.4)scale(.864 1)">Burkholderia xenovorans..</text></g>
<g id="L99"><use href="#s" x="220.3" y="1391"/><text transform="translate(223.3 1395.3)scale(.864 1)">Burkholderia pseudomall..</text></g>
<g id="L100"><use href="#s" x="270.7" y="1405"/><text transform="translate(273.7 1409.3)scale(.864 1)">Thioalkalivibrio sulfid..</text></g>
<g id="L101"><use href="#s" x="280" y="1418.9"/><text transform="translate(283 1423.2)scale(.864 1)">unclassified sequences</text></g>
<g id="L102"><use href="#s" x="263.3" y="1432.9"/><text transform="translate(266.3 1437.2)scale(.864 1)">Ralstonia pickettii 12D</text></g>
<g id="L103"><use href="#s" x="240.7" y="1446.8"/><text transform="translate(243.7 1451.1)scale(.864 1)">Xanthomonas axonopodis ..</text></g>
<g id="L104"><use href="#s" x="228.3" y="1460.8"/><text transform="translate(231.3 1465.1)scale(.864 1)">Thauera</text></g>
<g id="L105"><use href="#s" x="226.7" y="1474.7"/><text transform="translate(229.7 1479)scale(.864 1)">Comamonas testosteroni ..</text></g>
<g id="L106"><use href="#s" x="221.7" y="1488.7"/><text transform="translate(224.7 1493)scale(.864 1)">Acidovorax</text></g>
<g id="L107"><use href="#s" x="226.3" y="1502.6"/><text transform="translate(229.3 1506.9)scale(.864 1)">Parvibaculum lavamentiv..</text></g>
<g id="L108"><use href="#s" x="232.3" y="1516.6"/><text transform="translate(235.3 1520.9)scale(.864 1)">Xanthomonas campestris ..</text></g>
<g id="L109"><use href="#s" x="222.7" y="1530.5"/><text transform="translate(225.7 1534.8)scale(.864 1)">Burkholderia xenovorans..</text></g>
<g id="L110"><use href="#s" x="218.3" y="1544.5"/><text transform="translate(221.3 1548.8)scale(.864 1)">unclassified sequences</text></g>
<g id="L111"><use href="#s" x="249.3" y="1558.4"/><text transform="translate(252.3 1562.7)scale(.864 1)">Xylella fastidiosa 9a5c</text></g>
<g id="L112"><use href="#s" x="240" y="1572.3"/><text transform="translate(243 1576.6)scale(.864 1)">Acidovorax</text></g>
<g id="L113"><use href="#s" x="240" y="1586.3"/><text transform="translate(243 1590.6)scale(.864 1)">Xanthomonas campestris ..</text></g>
<g id="L114"><use href="#s" x="232.3" y="1600.2"/><text transform="translate(235.3 1604.5)scale(.864 1)">unclassified sequences</text></g>
<g id="L115"><use href="#s" x="246" y="1614.2"/><text transform="translate(249 1618.5)scale(.864 1)">Bordetella petrii</text></g>
<g id="L116"><use href="#s" x="228.7" y="1628.1"/><text transform="translate(231.7 1632.4)scale(.864 1)">Bordetella petrii</text></g>
<g id="L117"><use href="#s" x="369.3" y="1642.1"/><text transform="translate(372.3 1646.4)scale(.864 1)">Nitrosomonas eutropha C91</text></g>
<g id="L118"><use href="#s" x="285" y="1656"/><text transform="translate(288 1660.3)scale(.864 1)">Bordetella petrii</text></g>
<g id="L119"><use href="#s" x="244.3" y="1670"/><text transform="translate(247.3 1674.3)scale(.864 1)">Ralstonia pickettii 12D</text></g>
<g id="L120"><use href="#s" x="205" y="1683.9"/><text transform="translate(208 1688.2)scale(.864 1)">Acidovorax</text></g>
<g id="L121"><use href="#s" x="170" y="1697.8"/><text transform="translate(173 1702.1)scale(.864 1)">Pseudomonas syringae pv..</text></g>
<g id="L122"><use href="#s" x="151.7" y="1711.8"/><text transform="translate(154.7 1716.1)scale(.864 1)">Pseudomonas syringae pv..</text></g>
<g id="L123"><use href="#s" x="257.7" y="1725.7"/><text transform="translate(260.7 1730)scale(.864 1)">Pseudomonas putida F1</text></g>
<g id="L124"><use href="#s" x="275.7" y="1739.6"/><text transform="translate(278.7 1743.9)scale(.864 1)">unclassified sequences</text></g>
<g id="L125"><use href="#s" x="270.7" y="1753.6"/><text transform="translate(273.7 1757.9)scale(.864 1)">Pseudomonas putida W619</text></g>
<g id="L126"><use href="#s" x="270" y="1767.5"/><text transform="translate(273 1771.8)scale(.864 1)">unclassified sequences</text></g>
<g id="L127"><use href="#s" x="279" y="1781.5"/><text transform="translate(282 1785.8)scale(.864 1)">unclassified sequences</text></g>
<g id="L128"><use href="#s" x="257.7" y="1795.4"/><text transform="translate(260.7 1799.7)scale(.864 1)">unclassified sequences</text></g>
<g id="L129"><use href="#s" x="325.3" y="1809.4"/><text transform="translate(328.3 1813.7)scale(.864 1)">Pseudomonas putida F1</text></g>
<g id="L130"><use href="#s" x="361" y="1823.3"/><text transform="translate(364 1827.6)scale(.864 1)">Pseudomonas aeruginosa ..</text></g>
<g id="L131"><use href="#s" x="329" y="1837.3"/><text transform="translate(332 1841.6)scale(.864 1)">Pseudomonas aeruginosa ..</text></g>
<g id="L132"><use href="#s" x="334.3" y="1851.2"/><text transform="translate(337.3 1855.5)scale(.864 1)">Pseudomonas putida W619</text></g>
<g id="L133"><use href="#s" x="239.7" y="1865.2"/><text transform="translate(242.7 1869.5)scale(.864 1)">unclassified sequences</text></g>
<g id="L134"><use href="#s" x="199.7" y="1879.1"/><text transform="translate(202.7 1883.4)scale(.864 1)">Pseudomonas putida F1</text></g>
<g id="L135"><use href="#s" x="199.7" y="1893"/><text transform="translate(202.7 1897.3)scale(.864 1)">Pseudomonas putida W619</text></g>
<g id="L136"><use href="#s" x="254.7" y="1907"/><text transform="translate(257.7 1911.3)scale(.864 1)">Pseudomonas fluorescens..</text></g>
<g id="L137"><use href="#s" x="259" y="1920.9"/><text transform="translate(262 1925.2)scale(.864 1)">Pseudomonas aeruginosa ..</text></g>
<g id="L138"><use href="#s" x="259" y="1934.9"/><text transform="translate(262 1939.2)scale(.864 1)">Pseudomonas aeruginosa ..</text></g>
<g id="L139"><use href="#s" x="259.3" y="1948.8"/><text transform="translate(262.3 1953.1)scale(.864 1)">Pseudomonas aeruginosa ..</text></g>
<g id="L140"><use href="#s" x="261.7" y="1962.8"/><text transform="translate(264.7 1967.1)scale(.864 1)">Pseudomonas aeruginosa ..</text></g>
<g id="L141"><use href="#s" x="272" y="1976.7"/><text transform="translate(275 1981)scale(.864 1)">Pseudomonas aeruginosa ..</text></g>
<g id="L142"><use href="#s" x="240.7" y="1990.7"/><text transform="translate(243.7 1995)scale(.864 1)">Pseudomonas fluorescens..</text></g>
<g id="L143"><use href="#s" x="288.7" y="2004.6"/><text transform="translate(291.7 2008.9)scale(.864 1)">Pseudomonas aeruginosa ..</text></g>
<g id="L144"><use href="#s" x="238" y="2018.6"/><text transform="translate(241 2022.9)scale(.864 1)">Pseudomonas aeruginosa ..</text></g>
<g id="L145"><use href="#s" x="238" y="2032.5"/><text transform="translate(241 2036.8)scale(.864 1)">Pseudomonas aeruginosa ..</text></g>
<g id="L146"><use href="#s" x="250.3" y="2046.5"/><text transform="translate(253.3 2050.8)scale(.864 1)">Pseudomonas aeruginosa ..</text></g>
<g id="L147"><use href="#s" x="223.3" y="2060.4"/><text transform="translate(226.3 2064.7)scale(.864 1)">Pseudomonas aeruginosa ..</text></g>
<g id="L148"><use href="#s" x="220.3" y="2074.3"/><text transform="translate(223.3 2078.6)scale(.864 1)">Pseudomonas aeruginosa ..</text></g>
</g>
</svg>
